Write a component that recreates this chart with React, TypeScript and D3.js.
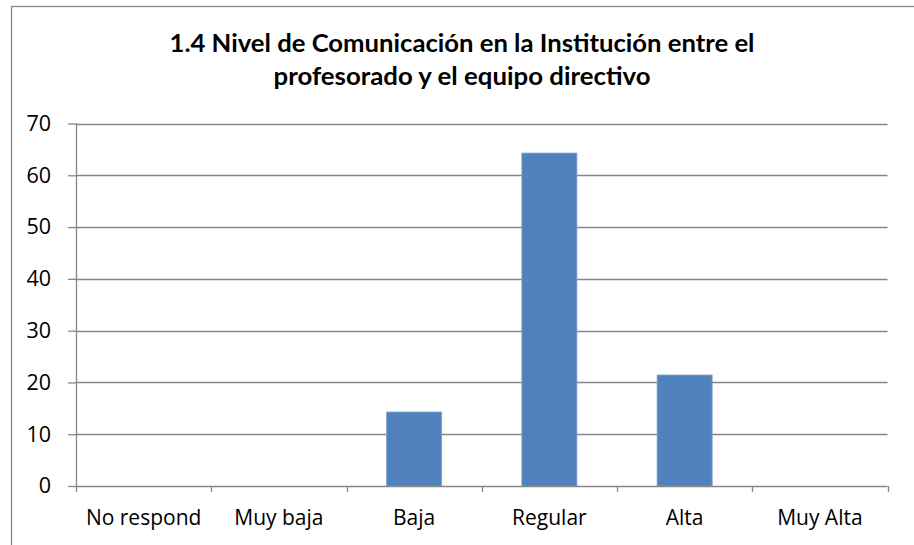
import React, { useEffect, useRef } from "react";
import * as d3 from "d3";

const categories = ["No respond", "Muy baja", "Baja", "Regular", "Alta", "Muy Alta"];
const values = [0, 0, 14.29, 64.29, 21.43, 0];
const yTicks = [0, 10, 20, 30, 40, 50, 60, 70];
const titleLines = [
  "1.4 Nivel de Comunicación en la Institución entre el",
  "profesorado y el equipo directivo",
];

const W = 914;
const H = 545;
const FONT = "'Open Sans', 'Noto Sans', sans-serif";
const TITLE_FONT = "Lato, 'Open Sans', sans-serif";

export default function App() {
  const ref = useRef<SVGSVGElement | null>(null);

  useEffect(() => {
    const svg = d3.select(ref.current);
    svg.selectAll("*").remove();

    const left = 76, right = 887.5, top = 123.5, bottom = 486;
    const x = d3.scaleBand<string>().domain(categories).range([left, right]).padding(0);
    const y = d3.scaleLinear().domain([0, 70]).range([bottom, top]);
    const grey = "#868686";

    // chart border (extends beyond window at right / bottom)
    svg.append("rect")
      .attr("x", 11.5).attr("y", 6.5)
      .attr("width", 1000).attr("height", 1000)
      .attr("fill", "white").attr("stroke", grey).attr("stroke-width", 1.3);

    // title
    const titleW = [585, 377];
    const titleY = [51.5, 85];
    titleLines.forEach((t, i) => {
      svg.append("text")
        .attr("x", 462).attr("y", titleY[i])
        .attr("text-anchor", "middle")
        .attr("font-family", TITLE_FONT).attr("font-weight", 700)
        .attr("font-size", 24)
        .attr("textLength", titleW[i])
        .attr("lengthAdjust", "spacingAndGlyphs")
        .attr("fill", "#000")
        .text(t);
    });

    // gridlines
    svg.append("g").selectAll("line").data(yTicks.filter((d) => d > 0)).join("line")
      .attr("x1", left).attr("x2", right)
      .attr("y1", (d) => Math.round(y(d)) + 0.5).attr("y2", (d) => Math.round(y(d)) + 0.5)
      .attr("stroke", grey).attr("stroke-width", 1.3);

    // bars
    const bw = x.step() * 0.407;
    svg.append("g").selectAll("rect").data(values.map((v, i) => ({ c: categories[i], v })).filter((d) => d.v > 0)).join("rect")
      .attr("x", (d) => (x(d.c) as number) + x.step() / 2 - bw / 2)
      .attr("width", bw)
      .attr("y", (d) => y(d.v))
      .attr("height", (d) => y(0) - y(d.v))
      .attr("fill", "#4F81BD")
      .attr("stroke", "#7EA1D0").attr("stroke-width", 0.8);

    // y axis
    const yAxis = d3.axisLeft(y).tickValues(yTicks).tickSize(8).tickPadding(17).tickFormat(d3.format("d"));
    const gy = svg.append("g").attr("transform", `translate(${left},0)`).call(yAxis);
    gy.select(".domain").attr("stroke", grey).attr("stroke-width", 1.3).attr("d", `M0.5,${top}V${bottom + 0.5}`);
    gy.selectAll(".tick line").attr("stroke", grey).attr("stroke-width", 1.3);
    gy.selectAll(".tick text").attr("font-family", FONT).attr("font-size", 21.5).attr("fill", "#000");

    // x axis
    const xTickPos = d3.range(categories.length + 1).map((i) => left + i * x.step());
    const gx = svg.append("g");
    gx.append("line").attr("x1", left).attr("x2", right)
      .attr("y1", bottom + 0.5).attr("y2", bottom + 0.5)
      .attr("stroke", grey).attr("stroke-width", 1.3);
    gx.selectAll("line.t").data(xTickPos).join("line").attr("class", "t")
      .attr("x1", (d) => Math.round(d) + 0.5).attr("x2", (d) => Math.round(d) + 0.5)
      .attr("y1", bottom).attr("y2", bottom + 6)
      .attr("stroke", grey).attr("stroke-width", 1.3);
    gx.selectAll("text").data(categories).join("text")
      .attr("x", (d) => (x(d) as number) + x.step() / 2)
      .attr("y", 525)
      .attr("text-anchor", "middle")
      .attr("font-family", FONT).attr("font-size", 21).attr("fill", "#000")
      .text((d) => d);
  }, []);

  return (
    <svg ref={ref} width={W} height={H} style={{ position: "absolute", left: 0, top: 0, background: "white" }} />
  );
}
